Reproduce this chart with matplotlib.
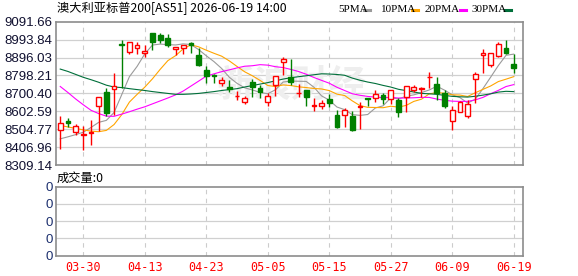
import numpy as np
import pandas as pd
import matplotlib
matplotlib.use("Agg")
import matplotlib.pyplot as plt
from matplotlib import font_manager
from matplotlib.lines import Line2D

# ---- data ----
dates = ["03-25", "03-26", "03-27", "03-30", "03-31", "04-01", "04-02", "04-07", "04-08", "04-09",
         "04-10", "04-13", "04-14", "04-15", "04-16", "04-17", "04-20", "04-21", "04-22", "04-23",
         "04-24", "04-27", "04-28", "04-29", "04-30", "05-01", "05-04", "05-05", "05-06", "05-07",
         "05-08", "05-11", "05-12", "05-13", "05-14", "05-15", "05-18", "05-19", "05-20", "05-21",
         "05-22", "05-25", "05-26", "05-27", "05-28", "05-29", "06-01", "06-02", "06-03", "06-04",
         "06-05", "06-09", "06-10", "06-11", "06-12", "06-15", "06-16", "06-17", "06-18", "06-19"]
label_dates = ["03-30", "04-13", "04-23", "05-05", "05-15", "05-27", "06-09", "06-19"]

opens = [8500, 8552, 8488, 8471, 8486, 8631, 8708, 8724, 8972, 8924,
         8948, 8921, 9030, 9021, 9003, 8940, 8948, 8976, 8908, 8827,
         8803, 8756, 8735, 8685, 8652, 8761, 8729, 8652, 8744, 8869,
         8788, 8701, 8720, 8634, 8633, 8672, 8583, 8583, 8579, 8626,
         8675, 8677, 8690, 8672, 8666, 8681, 8720, 8722, 8787, 8749,
         8702, 8547, 8600, 8577, 8779, 8910, 8856, 8905, 8949, 8863]
highs = [8577, 8568, 8534, 8524, 8556, 8683, 8731, 8810, 8991, 8983,
         8982, 8962, 9032, 9030, 9025, 8954, 8963, 8982, 8949, 8851,
         8804, 8788, 8771, 8713, 8688, 8779, 8744, 8702, 8797, 8901,
         8887, 8752, 8721, 8677, 8663, 8699, 8609, 8618, 8606, 8654,
         8676, 8717, 8702, 8721, 8677, 8739, 8744, 8735, 8815, 8792,
         8720, 8631, 8660, 8663, 8815, 8940, 8922, 8982, 8994, 8917]
lows = [8395, 8514, 8473, 8389, 8421, 8493, 8579, 8584, 8731, 8915,
        8917, 8899, 8939, 8978, 8956, 8910, 8913, 8922, 8849, 8758,
        8756, 8740, 8706, 8663, 8642, 8681, 8677, 8631, 8688, 8803,
        8744, 8681, 8631, 8606, 8615, 8627, 8511, 8516, 8497, 8505,
        8631, 8654, 8642, 8642, 8570, 8600, 8708, 8681, 8731, 8663,
        8623, 8502, 8599, 8564, 8645, 8810, 8846, 8899, 8917, 8810]
closes = [8541, 8537, 8524, 8477, 8491, 8681, 8591, 8738, 8965, 8982,
          8962, 8932, 8980, 8991, 8967, 8953, 8962, 8962, 8854, 8797,
          8794, 8774, 8722, 8688, 8675, 8735, 8708, 8686, 8795, 8887,
          8761, 8704, 8681, 8638, 8649, 8645, 8516, 8609, 8502, 8629,
          8668, 8695, 8668, 8720, 8600, 8738, 8735, 8731, 8790, 8702,
          8631, 8609, 8654, 8642, 8806, 8922, 8921, 8971, 8921, 8838]
volume = [0] * 60

# moving-average values at the start of the window (history before it is not shown)
ma5_head = [8452, 8463, 8475, 8488]
ma10_head = [8525, 8517, 8509, 8501, 8494, 8491, 8498, 8530, 8584]
ma20_head = [8738, 8705, 8670, 8638, 8608, 8590, 8576, 8575, 8587, 8600,
             8614, 8627, 8643, 8659, 8675, 8692, 8713, 8740, 8767]
ma30_head = [8833, 8820, 8804, 8788, 8775, 8761, 8745, 8735, 8732, 8726,
             8721, 8716, 8710, 8705, 8700, 8695, 8695, 8697, 8700, 8705,
             8710, 8716, 8721, 8726, 8735, 8743, 8751, 8759, 8769]

price_ticks = [9091.66, 8993.84, 8896.03, 8798.21, 8700.40, 8602.59, 8504.77, 8406.96, 8309.14]
title = "澳大利亚标普200[AS51] 2026-06-19 14:00"

# ---- fonts ----
def pick(name, fallback="DejaVu Sans"):
    try:
        font_manager.findfont(name, fallback_to_default=False)
        return name
    except Exception:
        return fallback

num_font = pick("Liberation Sans Narrow", "Liberation Sans")
serif_font = pick("Liberation Serif", "DejaVu Serif")
cjk = ["Noto Sans CJK SC", "DejaVu Sans"]

W, H = 578, 276
def fx(x):
    return x / W
def fy(y):
    return 1 - y / H

fig = plt.figure(figsize=(W / 100, H / 100), dpi=100, facecolor="white")
ax = fig.add_axes([fx(56), fy(165), (522.5 - 56) / W, (165 - 21.7) / H])
axv = fig.add_axes([fx(56), fy(255.7), (522.5 - 56) / W, (255.7 - 186.7) / H])

df = pd.DataFrame({"open": opens, "high": highs, "low": lows, "close": closes})
x = np.arange(len(df))

# moving averages
ma_cfg = [(5, ma5_head, "#9a9a9a"), (10, ma10_head, "#ffa500"),
          (20, ma20_head, "#ff00ff"), (30, ma30_head, "#006f3a")]
for n, head, col in ma_cfg:
    ma = df["close"].rolling(n).mean()
    ma.iloc[:n - 1] = head
    ax.plot(x, ma, color=col, lw=0.8, zorder=4)

# candles
up = df["close"] >= df["open"]
colors = np.where(up, "#ff0000", "#008000")
ax.vlines(x, df["low"], df["high"], colors=colors, lw=1.0, zorder=5)
body_lo = np.minimum(df["open"], df["close"])
body_h = np.abs(df["close"] - df["open"])
ax.bar(x[up], body_h[up], bottom=body_lo[up], width=0.62, facecolor="white",
       edgecolor="#ff0000", linewidth=1.0, zorder=6)
ax.bar(x[~up], body_h[~up], bottom=body_lo[~up], width=0.62, facecolor="#008000",
       edgecolor="#008000", linewidth=1.0, zorder=6)

# watermark
ax.text(30, 8745, "新浪财经", fontsize=27, color="#eeeeee", family=cjk, fontweight="bold",
        ha="center", va="center", zorder=1)

tick_pos = [dates.index(d) for d in label_dates]
x_lo, x_hi = -0.55, 60.14

for a in (ax, axv):
    a.set_xlim(x_lo, x_hi)
    for p in tick_pos:
        a.axvline(p, color="#cccccc", lw=0.8, ls=(0, (4, 4)), zorder=0)
    for s in a.spines.values():
        s.set_color("#8c8c8c")
        s.set_linewidth(1.2)
    a.tick_params(length=0)

ax.set_ylim(price_ticks[-1], price_ticks[0])
ax.set_yticks(price_ticks)
ax.set_yticklabels([f"{v:.2f}" for v in price_ticks], fontsize=9.5, family=num_font, color="#101030")
ax.tick_params(axis="y", pad=2.5)
ax.set_xticks([])
for v in price_ticks[1:-1]:
    ax.axhline(v, color="#d0d0d0", lw=0.9, zorder=0)

vol_ticks = [0, 1, 2, 3, 4]
axv.set_ylim(0, 4)
axv.bar(x, volume, width=0.62, color="#008000")
axv.set_yticks(vol_ticks)
axv.set_yticklabels(["0"] * len(vol_ticks), fontsize=9.5, family=num_font, color="#1c2f6e")
axv.tick_params(axis="y", pad=2.5)
for v in vol_ticks[1:-1]:
    axv.axhline(v, color="#d0d0d0", lw=0.9, zorder=0)
axv.set_xticks(tick_pos)
axv.set_xticklabels(label_dates, fontsize=8.5, family="DejaVu Sans Mono", color="#ff0000")
axv.tick_params(axis="x", pad=4)

# title and volume caption
fig.text(fx(57), fy(8.5), title, fontsize=8.8, family=cjk, color="black", va="center", ha="left")
fig.text(fx(57), fy(178), "成交量:0", fontsize=8.8, family=cjk, color="black", va="center", ha="left")

# legend
legend_items = [("5PMA", 338.7, 364, "#9a9a9a"), ("10PMA", 380.7, 412, "#ffa500"),
                ("20PMA", 425, 459.7, "#ff00ff"), ("30PMA", 471, 504.7, "#006f3a")]
for lab, tx, lx, col in legend_items:
    fig.text(fx(tx), fy(9.5), lab, fontsize=8, family=serif_font, color="black", va="center", ha="left")
    fig.lines.append(Line2D([fx(lx), fx(lx + 6)], [fy(9.5), fy(9.5)], color=col, lw=2.2,
                            transform=fig.transFigure, figure=fig))

fig.savefig("out.png", dpi=100, facecolor="white")
